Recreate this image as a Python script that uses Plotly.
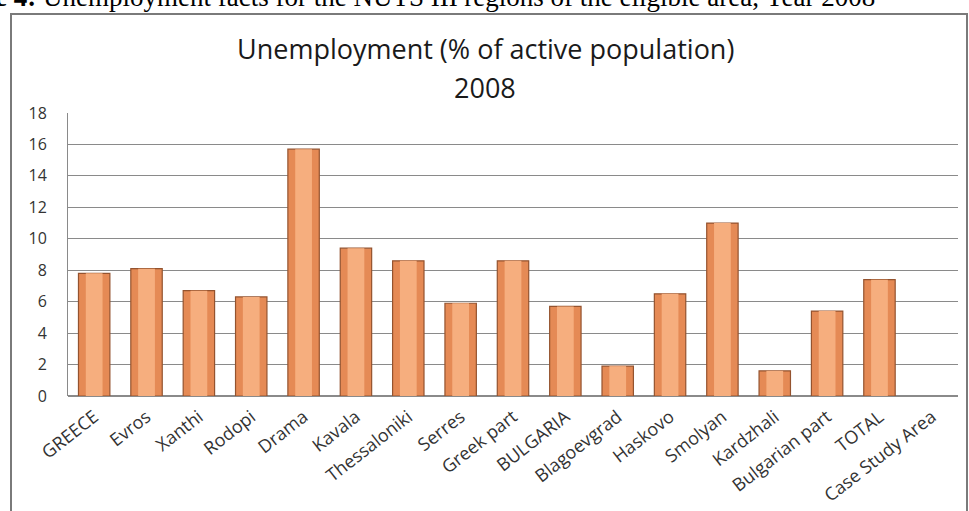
import plotly.graph_objects as go

categories = ["GREECE", "Evros", "Xanthi", "Rodopi", "Drama", "Kavala", "Thessaloniki",
              "Serres", "Greek part", "BULGARIA", "Blagoevgrad", "Haskovo", "Smolyan",
              "Kardzhali", "Bulgarian part", "TOTAL", "Case Study Area"]
unemployment = [7.8, 8.1, 6.7, 6.3, 15.7, 9.4, 8.6, 5.9, 8.6, 5.7, 1.9, 6.5, 11.0,
                1.6, 5.4, 7.4, None]
y_ticks = [0, 2, 4, 6, 8, 10, 12, 14, 16, 18]

title_line1 = "Unemployment (% of active population)"
title_line2 = "2008"
caption_text = "<b>Figure 4:</b> Unemployment facts for the NUTS III regions of the eligible area, Year 2008"

W, H = 969, 511
ml, mr, mt, mb = 68, 11, 113, 115
pw, ph = W - ml - mr, H - mt - mb

def px_x(p):
    return (p - ml) / pw

def px_y(p):
    return (H - mb - p) / ph

fig = go.Figure()
fig.add_trace(go.Bar(
    x=categories, y=unemployment, width=0.6,
    marker=dict(color="#E58A55", line=dict(color="#94532F", width=1.2)),
    hoverinfo="x+y", showlegend=False,
))
fig.add_trace(go.Bar(
    x=categories, y=unemployment, width=0.32,
    marker=dict(color="#F6AE7E", line=dict(width=0)),
    hoverinfo="skip", showlegend=False,
))

title_font = dict(family="Open Sans", size=27, color="#1a1a1a")

fig.update_layout(
    width=W, height=H,
    margin=dict(l=ml, r=mr, t=mt, b=mb),
    paper_bgcolor="white", plot_bgcolor="white",
    barmode="overlay",
    xaxis=dict(tickangle=-38, tickfont=dict(family="Open Sans", size=18, color="#333333"),
               showline=False, showgrid=False, ticks="", ticklabelstandoff=6,
               automargin=False),
    yaxis=dict(range=[0, 18], tickvals=y_ticks, showgrid=True, gridcolor="#8a8a8a",
               gridwidth=1, zeroline=True, zerolinecolor="#8a8a8a", showline=True,
               linecolor="#8a8a8a", ticks="", ticklabelstandoff=17, automargin=False,
               tickfont=dict(family="Open Sans", size=16, color="#333333")),
    shapes=[dict(type="rect", xref="paper", yref="paper",
                 x0=px_x(11), x1=px_x(967), y0=px_y(530), y1=px_y(14),
                 line=dict(color="#7a7a7a", width=2), fillcolor="rgba(0,0,0,0)",
                 layer="below")],
    annotations=[
        dict(text=caption_text, xref="paper", yref="paper",
             x=px_x(877), y=px_y(7), xanchor="right", yanchor="bottom",
             showarrow=False, yshift=-7,
             font=dict(family="Liberation Serif", size=27, color="black")),
        dict(text=title_line1, xref="paper", yref="paper",
             x=px_x(485), y=px_y(49), xanchor="center", yanchor="middle",
             showarrow=False, font=title_font),
        dict(text=title_line2, xref="paper", yref="paper",
             x=px_x(485), y=px_y(87), xanchor="center", yanchor="middle",
             showarrow=False, font=title_font),
    ],
)

fig.write_html("out.html", config={"displayModeBar": False},
               post_script="document.body.style.margin='0px';")
